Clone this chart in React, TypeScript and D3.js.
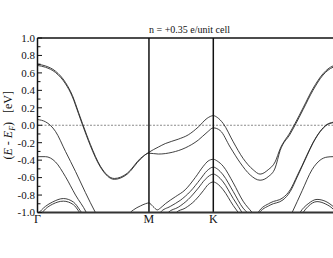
import { useMemo } from 'react';
import * as d3 from 'd3';

// k-path: Γ=0, M=0.577, K=0.911, Γ=1.577
const kPoints = [0, 0.5774, 0.9107, 1.5774];
const kLabels = ['Γ', 'M', 'K', 'Γ'];
const yTicks = [-1.0, -0.8, -0.6, -0.4, -0.2, 0.0, 0.2, 0.4, 0.6, 0.8, 1.0];

// bands as [k, E - E_F] pairs
const bandA1 = [[0,0.70],[0.041,0.68],[0.093,0.62],[0.145,0.49],[0.181,0.34],[0.212,0.15],[0.233,0.02],[0.253,-0.10],[0.274,-0.22],[0.326,-0.47],[0.398,-0.61],[0.465,-0.55],[0.533,-0.38],[0.577,-0.31],[0.626,-0.25],[0.662,-0.21],[0.729,-0.16],[0.781,-0.11],[0.833,-0.02],[0.879,0.08],[0.911,0.11],[0.931,0.09],[0.962,0.02],[1.014,-0.19],[1.065,-0.38],[1.117,-0.51],[1.153,-0.56],[1.195,-0.51],[1.231,-0.42],[1.257,-0.27],[1.309,-0.08],[1.334,0.02],[1.376,0.20],[1.427,0.42],[1.479,0.59],[1.531,0.68],[1.577,0.70]];
const bandA2 = [[0,0.685],[0.041,0.665],[0.093,0.605],[0.145,0.475],[0.181,0.325],[0.212,0.135],[0.233,0.005],[0.253,-0.115],[0.274,-0.235],[0.326,-0.48],[0.398,-0.62],[0.465,-0.56],[0.533,-0.39],[0.577,-0.32],[0.626,-0.33],[0.698,-0.31],[0.765,-0.26],[0.833,-0.17],[0.879,-0.08],[0.911,-0.03],[0.946,-0.06],[0.998,-0.25],[1.050,-0.43],[1.102,-0.57],[1.153,-0.63],[1.195,-0.59],[1.231,-0.49],[1.257,-0.29],[1.309,-0.10],[1.334,0.00],[1.376,0.18],[1.427,0.40],[1.479,0.575],[1.531,0.665],[1.577,0.685]];
const bandB = [[0,0.065],[0.041,0.04],[0.093,-0.07],[0.145,-0.30],[0.197,-0.53],[0.248,-0.77],[0.300,-1.0],[0.32,-1.08]];
const bandC = [[0,-0.36],[0.041,-0.36],[0.093,-0.42],[0.145,-0.59],[0.197,-0.80],[0.253,-1.0],[0.27,-1.08]];
const bandD1 = [[0,-1.02],[0.041,-0.93],[0.078,-0.88],[0.134,-0.84],[0.186,-0.88],[0.222,-0.98],[0.243,-1.05]];
const bandD2 = [[0.01,-1.04],[0.041,-0.96],[0.078,-0.905],[0.134,-0.87],[0.186,-0.91],[0.212,-0.98],[0.233,-1.05]];
const bandL1 = [[0.465,-1.06],[0.481,-1.0],[0.497,-0.97],[0.533,-0.925],[0.559,-0.90],[0.577,-0.89],[0.598,-0.93],[0.621,-0.97],[0.636,-0.95],[0.662,-0.90],[0.714,-0.82],[0.765,-0.74],[0.817,-0.60],[0.859,-0.47],[0.884,-0.41],[0.911,-0.39],[0.931,-0.41],[0.962,-0.47],[1.014,-0.66],[1.065,-0.87],[1.112,-1.0],[1.13,-1.05]];
const bandL2 = [[0.62,-1.06],[0.636,-1.0],[0.688,-0.93],[0.740,-0.86],[0.791,-0.76],[0.843,-0.62],[0.879,-0.52],[0.911,-0.48],[0.931,-0.50],[0.962,-0.57],[1.014,-0.76],[1.065,-0.95],[1.086,-1.0],[1.10,-1.04]];
const bandL3 = [[0.66,-1.06],[0.677,-1.0],[0.729,-0.94],[0.781,-0.85],[0.833,-0.72],[0.869,-0.62],[0.911,-0.56],[0.931,-0.58],[0.962,-0.65],[1.014,-0.84],[1.040,-0.93],[1.065,-1.02]];
const bandL4 = [[0.70,-1.06],[0.719,-1.0],[0.765,-0.95],[0.817,-0.86],[0.859,-0.75],[0.884,-0.68],[0.911,-0.65],[0.931,-0.67],[0.962,-0.74],[1.014,-0.92],[1.040,-1.0],[1.05,-1.03]];
const bandB2a = [[1.13,-1.06],[1.143,-1.0],[1.205,-0.89],[1.272,-0.83],[1.309,-0.74],[1.345,-0.58],[1.371,-0.46],[1.396,-0.34],[1.427,-0.20],[1.464,-0.07],[1.500,0.01],[1.531,0.035],[1.577,0.065]];
const bandB2b = [[1.13,-1.08],[1.143,-1.02],[1.205,-0.915],[1.272,-0.855],[1.309,-0.76],[1.345,-0.595],[1.371,-0.47],[1.396,-0.35],[1.427,-0.205],[1.464,-0.075],[1.500,0.005],[1.531,0.03],[1.577,0.06]];
const bandC2 = [[1.31,-1.04],[1.319,-1.0],[1.371,-0.75],[1.422,-0.51],[1.464,-0.40],[1.500,-0.365],[1.531,-0.36],[1.577,-0.36]];
const bandD3 = [[1.345,-1.06],[1.360,-1.0],[1.402,-0.90],[1.448,-0.85],[1.490,-0.87],[1.531,-0.93],[1.562,-1.0],[1.577,-1.02]];
const bandD4 = [[1.36,-1.06],[1.376,-1.0],[1.402,-0.93],[1.448,-0.875],[1.490,-0.90],[1.531,-0.96],[1.56,-1.04]];

const bands = [bandA1, bandA2, bandB, bandC, bandD1, bandD2, bandL1, bandL2, bandL3, bandL4, bandB2a, bandB2b, bandC2, bandD3, bandD4];

const font = '"Liberation Serif", "Times New Roman", serif';

export default function App() {
  const width = 333;
  const height = 258;
  const left = 37.5, right = 342, top = 38, bottom = 212.5;

  const x = d3.scaleLinear().domain([0, kPoints[3]]).range([left, right]);
  const y = d3.scaleLinear().domain([-1, 1]).range([bottom, top]);

  const line = useMemo(() => d3.line<number[]>()
    .x(d => x(d[0]))
    .y(d => y(d[1]))
    .curve(d3.curveMonotoneX), []);

  const minorTicks = d3.range(-0.9, 1.0, 0.2);

  return (
    <div style={{ position: 'absolute', left: 0, top: 0 }}>
      <svg width={width} height={height} style={{ display: 'block', background: '#fff' }}>
        <defs>
          <clipPath id="plot-clip">
            <rect x={left} y={top} width={right - left} height={bottom - top} />
          </clipPath>
        </defs>

        {/* zero line */}
        <line x1={left} x2={right} y1={y(0)} y2={y(0)} stroke="#8a8a8a" strokeWidth={1} strokeDasharray="2,1.5" />

        {/* bands */}
        <g clipPath="url(#plot-clip)">
          {bands.map((b, i) => (
            <path key={i} d={line(b) || ''} fill="none" stroke="#2b2b2b" strokeWidth={0.9} />
          ))}
        </g>

        {/* high-symmetry lines */}
        {kPoints.slice(1).map((k, i) => (
          <line key={i} x1={x(k)} x2={x(k)} y1={top} y2={bottom} stroke="#111" strokeWidth={1.5} />
        ))}

        {/* frame */}
        <line x1={left} x2={right} y1={top} y2={top} stroke="#111" strokeWidth={1.5} />
        <line x1={left} x2={right} y1={bottom} y2={bottom} stroke="#333" strokeWidth={2} />
        <line x1={left} x2={left} y1={top} y2={bottom} stroke="#111" strokeWidth={1.5} />

        {/* y ticks */}
        {yTicks.map(t => (
          <g key={t}>
            <line x1={left} x2={left + 4.5} y1={y(t)} y2={y(t)} stroke="#111" strokeWidth={1} />
            <text x={35} y={y(t)} dy="0.35em" textAnchor="end" fontFamily={font} fontSize={11} fill="#111">
              {t.toFixed(1)}
            </text>
          </g>
        ))}
        {minorTicks.map(t => (
          <line key={'m' + t} x1={left} x2={left + 3} y1={y(t)} y2={y(t)} stroke="#111" strokeWidth={1} />
        ))}

        {/* k labels (the closing Γ sits outside the visible window) */}
        {kPoints.slice(0, 3).map((k, i) => (
          <text key={i} x={x(k)} y={223} textAnchor="middle" fontFamily={font} fontSize={12} fill="#111">
            {kLabels[i]}
          </text>
        ))}

        {/* title */}
        <text x={189.5} y={33} textAnchor="middle" fontFamily={font} fontSize={10} fill="#111">
          n = +0.35 e/unit cell
        </text>

        {/* y label */}
        <text transform={`translate(12,${y(0)}) rotate(-90)`} textAnchor="middle" fontFamily={font} fontSize={12} fill="#111">
          (<tspan fontStyle="italic">E</tspan>{' - '}<tspan fontStyle="italic">E</tspan>
          <tspan fontStyle="italic" fontSize={8} dy={3}>F</tspan>
          <tspan dy={-3}>{')\u00a0\u00a0\u00a0[eV]'}</tspan>
        </text>
      </svg>
    </div>
  );
}
